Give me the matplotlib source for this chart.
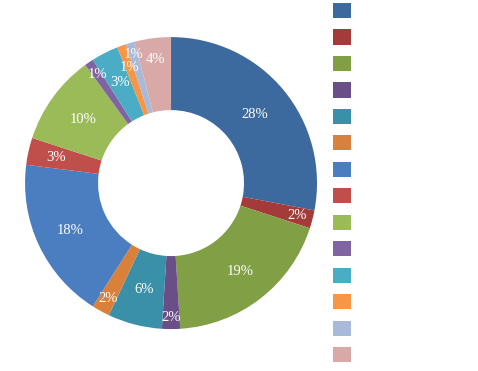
import matplotlib.pyplot as plt
import numpy as np
from matplotlib.patches import Patch

# slice shares, clockwise from 12 o'clock
values = [28, 2, 19, 2, 6, 2, 18, 3, 10, 1, 3, 1, 1, 4]
labels = [f"{v}%" for v in values]
# how far out each label sits (Excel pushes small-slice labels outward)
label_r = [0.74, 0.89, 0.77, 0.92, 0.75, 0.90, 0.76, 0.81, 0.74, 0.90, 0.77, 0.84, 0.92, 0.85]
colors = [
    "#3D6A9E", "#A23B39", "#819F45", "#694E88", "#3A90A8", "#D9803A",
    "#4A7EC0", "#C04E4B", "#9BBB59", "#8064A2", "#4BACC6", "#F79646",
    "#A8BAD9", "#D9A9A8",
]

fig = plt.figure(figsize=(4.78, 3.71), dpi=100)
ax = fig.add_axes([0.0523, 0.113, 0.611, 0.787])

wedges, _ = ax.pie(
    values,
    startangle=90,
    counterclock=False,
    colors=colors,
    radius=1.0,
    wedgeprops=dict(width=0.5, linewidth=0),
)
for w, lab, r in zip(wedges, labels, label_r):
    ang = np.deg2rad((w.theta1 + w.theta2) / 2)
    ax.text(r * np.cos(ang), r * np.sin(ang), lab, ha="center", va="center",
            color="white", fontsize=10.5, family=["Liberation Serif", "DejaVu Serif"])
ax.set_xlim(-1, 1)
ax.set_ylim(-1, 1)
ax.set_aspect("equal")
ax.axis("off")

handles = [Patch(facecolor=c, edgecolor="none") for c in colors]
fig.legend(
    handles, [" "] * len(handles),
    loc="upper left", bbox_to_anchor=(0.697, 0.992),
    frameon=False, borderpad=0, borderaxespad=0,
    fontsize=10, handlelength=1.3, handleheight=1.3, labelspacing=0.81,
)

fig.savefig("out.png", dpi=100)
